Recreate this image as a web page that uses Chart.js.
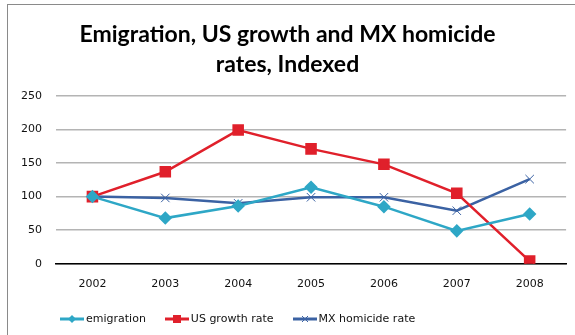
<!DOCTYPE html>
<html>
<head>
<meta charset="utf-8">
<script src="https://cdn.jsdelivr.net/npm/chart.js@4"></script>
<style>
  html, body { margin: 0; padding: 0; background: #fff; overflow: hidden; }
  #wrap { position: relative; width: 575px; height: 335px; }
  #frame { position: absolute; left: 7px; top: 4px; width: 620px; height: 400px; border: 1px solid #8a8a8a; }
  #chart { position: absolute; left: 0; top: 0; }
  #legend { position: absolute; left: 60px; top: 312px; display: flex; font: 11px 'DejaVu Sans'; color: #111; }
  #legend .item { display: flex; align-items: center; margin-right: 19px; }
  #legend canvas { margin-right: 2px; }
</style>
</head>
<body>
<div id="wrap">
  <div id="frame"></div>
  <canvas id="chart" width="575" height="335"></canvas>
  <div id="legend"></div>
</div>
<script>
const years = ['2002', '2003', '2004', '2005', '2006', '2007', '2008'];
const emigration = [100, 68, 86, 114, 85, 49, 74];
const usGrowth = [100, 137, 199, 171, 148, 105, 4];
const mxHomicide = [100, 98, 90, 99, 99, 79, 126];
const yTicks = [0, 50, 100, 150, 200, 250];

const colors = {
  emigration: '#2ea7c6',
  us: '#e0202b',
  mx: '#3b62a3'
};

// legend swatch: line with the marker in the middle
const swatch = (color, style) => {
  const c = document.createElement('canvas');
  c.width = 24; c.height = 10;
  const g = c.getContext('2d');
  g.strokeStyle = color; g.fillStyle = color; g.lineWidth = 3;
  g.beginPath(); g.moveTo(0, 5); g.lineTo(24, 5); g.stroke();
  if (style === 'rectRot') {
    g.beginPath(); g.moveTo(12, 1); g.lineTo(16, 5); g.lineTo(12, 9); g.lineTo(8, 5); g.closePath(); g.fill();
  } else if (style === 'rect') {
    g.fillRect(8, 1, 8, 8);
  } else {
    g.lineWidth = 1;
    g.beginPath(); g.moveTo(9, 2); g.lineTo(15, 8); g.moveTo(15, 2); g.lineTo(9, 8); g.stroke();
  }
  return c;
};

const chart = new Chart(document.getElementById('chart').getContext('2d'), {
  type: 'line',
  data: {
    labels: years,
    datasets: [
      {
        label: 'emigration',
        data: emigration,
        borderColor: colors.emigration,
        backgroundColor: colors.emigration,
        borderWidth: 2.5,
        pointStyle: 'rectRot',
        pointRadius: 5
      },
      {
        label: 'US growth rate',
        data: usGrowth,
        borderColor: colors.us,
        backgroundColor: colors.us,
        borderWidth: 2.5,
        pointStyle: 'rect',
        pointRadius: 6.4
      },
      {
        label: 'MX homicide rate',
        data: mxHomicide,
        borderColor: colors.mx,
        backgroundColor: colors.mx,
        borderWidth: 2.5,
        pointStyle: 'crossRot',
        pointRadius: 6,
        pointBorderWidth: 1
      }
    ]
  },
  options: {
    responsive: false,
    animation: false,
    layout: { padding: { left: 7, right: 7, top: 20, bottom: 30 } },
    elements: { line: { tension: 0 } },
    scales: {
      x: {
        offset: true,
        grid: { display: false, drawTicks: false },
        border: { color: '#000', width: 1.5 },
        ticks: { color: '#111', font: { family: 'DejaVu Sans', size: 11 }, padding: 14 }
      },
      y: {
        min: 0,
        max: 250,
        afterBuildTicks: axis => { axis.ticks = yTicks.map(v => ({ value: v })); },
        grid: { color: '#b4b4b4', lineWidth: 1.5, drawTicks: false },
        border: { display: false },
        ticks: { color: '#111', font: { family: 'DejaVu Sans', size: 11 }, padding: 14 }
      }
    },
    plugins: {
      title: {
        display: true,
        text: ['Emigration, US growth and MX homicide', 'rates, Indexed'],
        color: '#000',
        font: { family: 'Lato', size: 23, weight: 'bold', lineHeight: 1.3 },
        padding: { top: 0, bottom: 16 }
      },
      legend: { display: false },
      tooltip: { enabled: false }
    }
  }
});

const legend = document.getElementById('legend');
chart.data.datasets.forEach(ds => {
  const item = document.createElement('div');
  item.className = 'item';
  item.appendChild(swatch(ds.borderColor, ds.pointStyle));
  const label = document.createElement('span');
  label.textContent = ds.label;
  item.appendChild(label);
  legend.appendChild(item);
});
</script>
</body>
</html>
